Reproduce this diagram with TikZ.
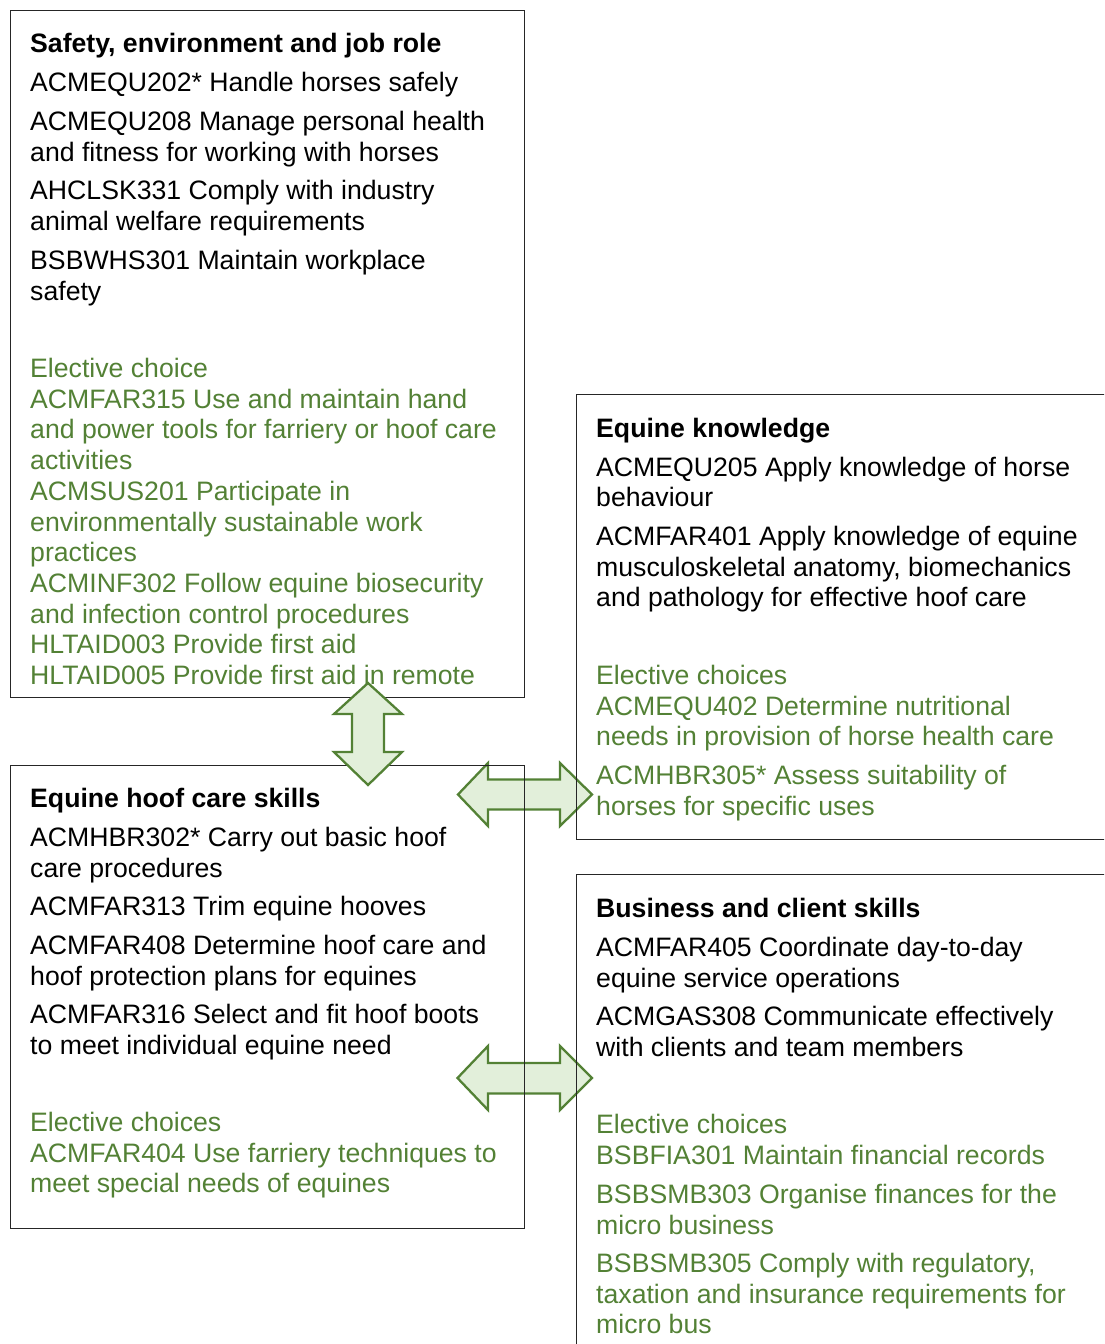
\documentclass[tikz,border=0pt]{standalone}
\usepackage{fontspec}
\setmainfont{Liberation Sans}
\definecolor{egreen}{HTML}{538135}
\definecolor{efill}{HTML}{E2EFDA}
\definecolor{eline}{HTML}{262626}
\begin{document}
\begin{tikzpicture}[x=1pt,y=-1pt,
  box/.style={draw=eline, line width=1.3pt, anchor=north west, inner sep=0pt, fill=none},
  txt/.style={anchor=base west, inner sep=0pt, font=\fontsize{26.65}{30.7}\selectfont, text=black},
  hd/.style={txt, font=\fontsize{26.65}{30.7}\selectfont\bfseries},
  gtxt/.style={txt, text=egreen},
  blockarrow/.style={draw=egreen, fill=efill, line width=2.3pt, line join=miter}]
\useasboundingbox (0,0) rectangle (1104,1344);
\clip (0,0) rectangle (1104,1344);

% horizontal block arrows (behind the boxes)
\coordinate (h1) at (525,794.5);
\coordinate (h2) at (525,1078);
\draw[blockarrow] (458,794.5) -- (488,763) -- (488,779.5) -- (560,779.5) -- (560,763) -- (592,794.5)
  -- (560,826) -- (560,809.5) -- (488,809.5) -- (488,826) -- cycle;
\draw[blockarrow] (457.5,1078) -- (488,1046) -- (488,1063) -- (560,1063) -- (560,1046) -- (592,1078)
  -- (560,1110) -- (560,1093.5) -- (488,1093.5) -- (488,1110) -- cycle;

% boxes
\node[box, minimum width=514pt, minimum height=687pt] (b1) at (10,10) {};
\node[box, minimum width=600pt, minimum height=445pt] (b2) at (576,394) {};
\node[box, minimum width=514pt, minimum height=463pt] (b3) at (10,765) {};
\node[box, minimum width=600pt, minimum height=600pt] (b4) at (576,874) {};

% box 1
\node[hd] (b1h) at (30,52) {Safety, environment and job role};
\foreach \y/\t [count=\i] in {
  91/{ACMEQU202* Handle horses safely},
  130/{ACMEQU208 Manage personal health},
  161/{and fitness for working with horses},
  199.5/{AHCLSK331 Comply with industry},
  230.5/{animal welfare requirements},
  269.5/{BSBWHS301 Maintain workplace},
  300.5/{safety}}
  \node[txt] (b1k\i) at (30,\y) {\t};
\foreach \y/\t [count=\i] in {
  377.5/{Elective choice},
  408.2/{ACMFAR315 Use and maintain hand},
  438.9/{and power tools for farriery or hoof care},
  469.6/{activities},
  500.3/{ACMSUS201 Participate in},
  531/{environmentally sustainable work},
  561.7/{practices},
  592.4/{ACMINF302 Follow equine biosecurity},
  623.1/{and infection control procedures},
  653.8/{HLTAID003 Provide first aid},
  684.5/{HLTAID005 Provide first aid in remote}}
  \node[gtxt] (b1g\i) at (30,\y) {\t};

% box 2
\node[hd] (b2h) at (596,437.5) {Equine knowledge};
\foreach \y/\t [count=\i] in {
  476.5/{ACMEQU205 Apply knowledge of horse},
  506.8/{behaviour},
  545.5/{ACMFAR401 Apply knowledge of equine},
  576.2/{musculoskeletal anatomy, biomechanics},
  606.9/{and pathology for effective hoof care}}
  \node[txt] (b2k\i) at (596,\y) {\t};
\foreach \y/\t [count=\i] in {
  684.5/{Elective choices},
  715/{ACMEQU402 Determine nutritional},
  745.7/{needs in provision of horse health care},
  784.5/{ACMHBR305* Assess suitability of},
  815.2/{horses for specific uses}}
  \node[gtxt] (b2g\i) at (596,\y) {\t};

% box 3
\node[hd] (b3h) at (30,807.5) {Equine hoof care skills};
\foreach \y/\t [count=\i] in {
  846.5/{ACMHBR302* Carry out basic hoof},
  877.2/{care procedures},
  915.5/{ACMFAR313 Trim equine hooves},
  954.5/{ACMFAR408 Determine hoof care and},
  985.2/{hoof protection plans for equines},
  1023.5/{ACMFAR316 Select and fit hoof boots},
  1054.2/{to meet individual equine need}}
  \node[txt] (b3k\i) at (30,\y) {\t};
\foreach \y/\t [count=\i] in {
  1131.5/{Elective choices},
  1162.2/{ACMFAR404 Use farriery techniques to},
  1192.9/{meet special needs of equines}}
  \node[gtxt] (b3g\i) at (30,\y) {\t};

% box 4
\node[hd] (b4h) at (596,917.5) {Business and client skills};
\foreach \y/\t [count=\i] in {
  956.5/{ACMFAR405 Coordinate day-to-day},
  987.2/{equine service operations},
  1025.5/{ACMGAS308 Communicate effectively},
  1056.2/{with clients and team members}}
  \node[txt] (b4k\i) at (596,\y) {\t};
\foreach \y/\t [count=\i] in {
  1133.5/{Elective choices},
  1164.2/{BSBFIA301 Maintain financial records},
  1203.5/{BSBSMB303 Organise finances for the},
  1234.2/{micro business},
  1272.5/{BSBSMB305 Comply with regulatory,},
  1303.2/{taxation and insurance requirements for},
  1333.9/{micro bus}}
  \node[gtxt] (b4g\i) at (596,\y) {\t};

% vertical block arrow (on top)
\coordinate (v1) at (368,734);
\draw[blockarrow] (368,683) -- (402,714) -- (384,714) -- (384,752) -- (402,752) -- (368,785)
  -- (334,752) -- (352,752) -- (352,714) -- (334,714) -- cycle;
\end{tikzpicture}
\end{document}
